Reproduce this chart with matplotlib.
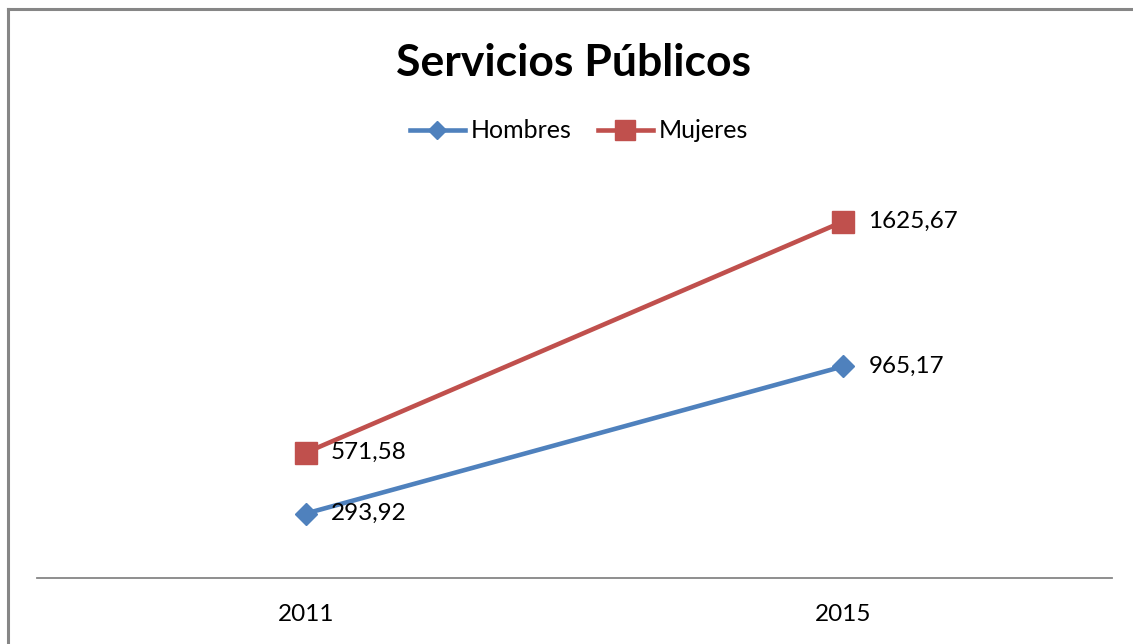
import matplotlib
matplotlib.use("Agg")
import matplotlib.pyplot as plt
from matplotlib.lines import Line2D

categories = ["2011", "2015"]
hombres = [293.92, 965.17]
mujeres = [571.58, 1625.67]
hombres_labels = ["293,92", "965,17"]
mujeres_labels = ["571,58", "1625,67"]

plt.rcParams['font.family'] = ['Lato', 'DejaVu Sans']

W, H = 1133, 644
fig = plt.figure(figsize=(W / 100, H / 100), dpi=100)
fig.patch.set_facecolor("white")

ax = fig.add_axes([37 / W, (H - 578) / H, 1075 / W, (578 - 183.3) / H])
x = list(range(len(categories)))
blue = "#4F81BD"
red = "#C0504D"

ax.plot(x, hombres, color=blue, lw=3.3, marker="D", ms=11, label="Hombres", zorder=3)
ax.plot(x, mujeres, color=red, lw=3.3, marker="s", ms=16, label="Mujeres", zorder=3)

for xi, v, lab in zip(x, hombres, hombres_labels):
    ax.annotate(lab, (xi, v), xytext=(18, 0), textcoords="offset points",
                va="center", ha="left", fontsize=17.5, color="black")
for xi, v, lab in zip(x, mujeres, mujeres_labels):
    ax.annotate(lab, (xi, v), xytext=(18, 0), textcoords="offset points",
                va="center", ha="left", fontsize=17.5, color="black")

ax.set_xlim(-0.5, 1.5)
ax.set_ylim(0, 1800)
ax.set_xticks(x)
ax.set_xticklabels(categories, fontsize=17.5)
ax.tick_params(axis="x", length=0, pad=19)
ax.set_yticks([])
for s in ["top", "right", "left"]:
    ax.spines[s].set_visible(False)
ax.spines["bottom"].set_color("#868686")
ax.spines["bottom"].set_linewidth(1.3)

fig.text(574 / W, 1 - 63 / H, "Servicios Públicos", ha="center", va="center",
         fontsize=32, fontweight="bold")

handles = [
    Line2D([], [], color=blue, lw=3.3, marker="D", ms=9),
    Line2D([], [], color=red, lw=3.3, marker="s", ms=14),
]
fig.legend(handles, ["Hombres", "Mujeres"], loc="center", bbox_to_anchor=(579 / W, 1 - 131 / H),
           ncol=2, frameon=False, fontsize=18, handlelength=2.2, handletextpad=0.25,
           columnspacing=1.05)

# chart border (left and top visible)
fig.add_artist(Line2D([8 / W, 8 / W], [0, 1 - 9 / H], transform=fig.transFigure,
                      color="#868686", lw=2.2))
fig.add_artist(Line2D([8 / W, 1], [1 - 9 / H, 1 - 9 / H], transform=fig.transFigure,
                      color="#868686", lw=2.2))

fig.savefig("out.png", dpi=100)
